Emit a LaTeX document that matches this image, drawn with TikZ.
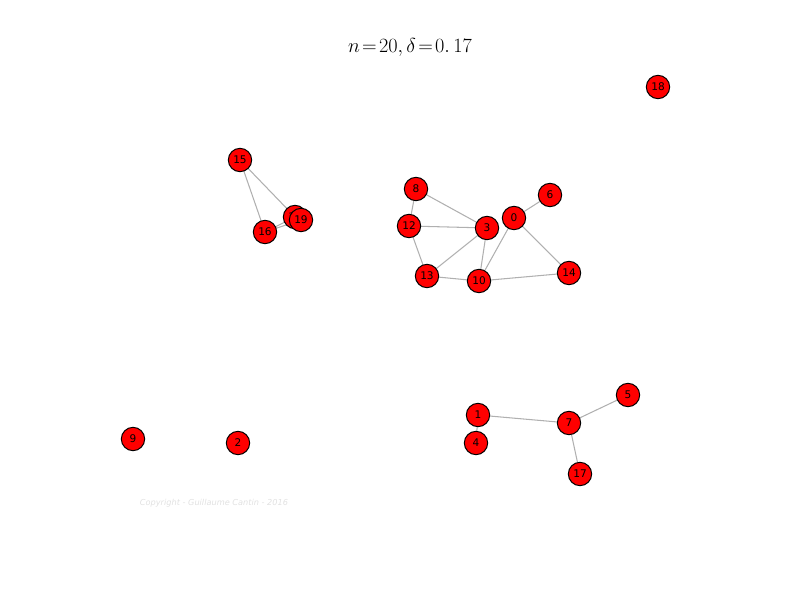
\documentclass[tikz,border=0pt]{standalone}
\usepackage{fontspec}
\newfontfamily\lblfont{DejaVu Sans}
\usepackage{tikz}
\usetikzlibrary{backgrounds}
\newcommand{\grphunit}{0.03cm}
\definecolor{vtxred}{RGB}{255,0,0}
\definecolor{edggray}{RGB}{176,176,176}
\definecolor{cprgray}{RGB}{225,225,225}

\begin{document}
\begin{tikzpicture}[x=\grphunit,y=-\grphunit,
    vtx/.style={circle,draw=black,fill=vtxred,line width=0.85pt,
      minimum size=0.7cm,inner sep=0pt,font=\lblfont\fontsize{9}{9}\selectfont},
    edg/.style={draw=edggray,line width=0.9pt}]
    \useasboundingbox (0,0) rectangle (800,600);

    \node (title) at (410,47)
      {\fontsize{17}{17}\selectfont $n\!=\!20,\delta\!=\!0.\,17$};
    \node (cpr) at (214,503) [text=cprgray]
      {\lblfont\itshape\fontsize{7}{7}\selectfont Copyright - Guillaume Cantin - 2016};

    \node (v18) at (658,87) [vtx] {18};
    \node (v15) at (240,160) [vtx] {15};
    \node (v16) at (265,232) [vtx] {16};
    \node (v11) at (295,217) [vtx] {11};
    \node (v19) at (301,220) [vtx] {19};
    \node (v8) at (416,189) [vtx] {8};
    \node (v6) at (550,195) [vtx] {6};
    \node (v0) at (514,218) [vtx] {0};
    \node (v12) at (409,226) [vtx] {12};
    \node (v3) at (487,228) [vtx] {3};
    \node (v13) at (427,276) [vtx] {13};
    \node (v10) at (479,281) [vtx] {10};
    \node (v14) at (569,273) [vtx] {14};
    \node (v5) at (628,395) [vtx] {5};
    \node (v1) at (478,415) [vtx] {1};
    \node (v7) at (569,423) [vtx] {7};
    \node (v4) at (476,443) [vtx] {4};
    \node (v17) at (580,474) [vtx] {17};
    \node (v9) at (133,439) [vtx] {9};
    \node (v2) at (238,443) [vtx] {2};

    % edges go under the vertices
    \begin{scope}[on background layer]
      \foreach \a/\b in {15/16,15/11,16/11,16/19,11/19,8/12,8/3,12/3,12/13,
        13/3,13/10,3/10,0/10,0/6,0/14,10/14,1/7,1/4,7/5,7/17}
        \path[edg] (v\a.center) -- (v\b.center);
    \end{scope}
\end{tikzpicture}
\end{document}
